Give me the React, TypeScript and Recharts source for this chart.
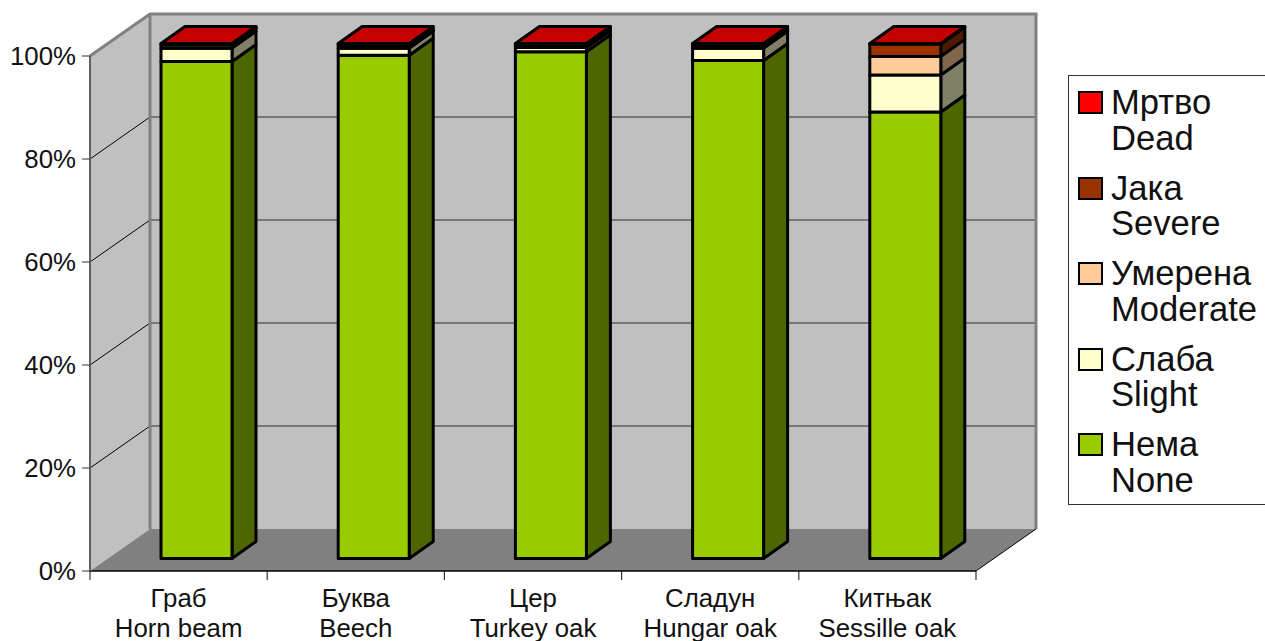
import { Bar, BarChart, Legend, ReferenceArea, XAxis, YAxis } from 'recharts'

const speciesSr = ['Граб', 'Буква', 'Цер', 'Сладун', 'Китњак']
const speciesEn = ['Horn beam', 'Beech', 'Turkey oak', 'Hungar oak', 'Sessille oak']

// Share of trees per damage class, percent
const none = [96.5, 97.7, 98.4, 96.7, 86.7]
const slight = [2.6, 1.4, 0.8, 2.4, 7.2]
const moderate = [0.6, 0, 0, 0, 3.6]
const severe = [0, 0.45, 0.4, 0.55, 2.4]
const dead = [0.3, 0.45, 0.4, 0.35, 0.1]

const classNames = {
  none: 'Нема\nNone',
  slight: 'Слаба\nSlight',
  moderate: 'Умерена\nModerate',
  severe: 'Јака\nSevere',
  dead: 'Мртво\nDead',
}

const yTicks = [0, 20, 40, 60, 80, 100]

const FONT = '"Liberation Sans", Arial, sans-serif'

const WALL_DX = 60
const WALL_DY = 42
const BAR_SHIFT_X = 18
const BAR_SHIFT_Y = 12.5
const BAR_DX = 24
const BAR_DY = 17

const rows = speciesSr.map((name, i) => ({
  name,
  none: none[i],
  slight: slight[i],
  moderate: moderate[i],
  severe: severe[i],
  dead: dead[i],
}))

const pts = (list: number[][]) => list.map((p) => p.join(',')).join(' ')

// Floor, side wall and back wall of the 3D box, with their gridlines
function Backdrop({ x, y, width, height }: any) {
  const bottom = y + height
  const right = x + width
  const backLeft = x + WALL_DX
  const backRight = right + WALL_DX
  const backTop = y - WALL_DY
  const backBottom = bottom - WALL_DY
  return (
    <g>
      <rect x={backLeft} y={backTop} width={width} height={height} fill="#c0c0c0" />
      <polygon
        points={pts([[x, y], [backLeft, backTop], [backLeft, backBottom], [x, bottom]])}
        fill="#c0c0c0"
      />
      <polygon
        points={pts([[x, bottom], [right, bottom], [backRight, backBottom], [backLeft, backBottom]])}
        fill="#808080"
      />
      {yTicks.filter((t) => t > 0 && t < 100).map((t) => {
        const gy = bottom - (height * t) / 100
        return (
          <g key={t}>
            <line x1={x} y1={gy} x2={backLeft} y2={gy - WALL_DY} stroke="#000" strokeWidth={1} />
            <line x1={backLeft} y1={gy - WALL_DY} x2={backRight} y2={gy - WALL_DY} stroke="#606060" strokeWidth={1.5} />
          </g>
        )
      })}
      <polyline
        points={pts([[x, y], [backLeft, backTop], [backRight, backTop], [backRight, backBottom]])}
        fill="none"
        stroke="#808080"
        strokeWidth={3}
      />
      <line x1={backLeft} y1={backTop} x2={backLeft} y2={backBottom} stroke="#808080" strokeWidth={3} />
      <line x1={right} y1={bottom} x2={backRight} y2={backBottom} stroke="#000" strokeWidth={1} />
      {speciesSr.map((_, i) => i).concat(speciesSr.length).map((i) => {
        const tx = x + (width * i) / speciesSr.length
        return <line key={i} x1={tx} y1={bottom} x2={tx} y2={bottom + 9} stroke="#333" strokeWidth={1.2} />
      })}
    </g>
  )
}

// One stack segment as a box: front face, shaded side and optionally the lid
function Segment({ x, y, width, height, fill, side, lid }: any) {
  const fx = x + BAR_SHIFT_X
  const fy = y - BAR_SHIFT_Y
  const fr = fx + width
  const fb = fy + height
  return (
    <g stroke="#000" strokeWidth={3} strokeLinejoin="round">
      <polygon
        points={pts([[fr, fy], [fr + BAR_DX, fy - BAR_DY], [fr + BAR_DX, fb - BAR_DY], [fr, fb]])}
        fill={side}
      />
      <rect x={fx} y={fy} width={width} height={height} fill={fill} />
      {lid && (
        <polygon
          points={pts([[fx, fy], [fx + BAR_DX, fy - BAR_DY], [fr + BAR_DX, fy - BAR_DY], [fr, fy]])}
          fill={lid}
        />
      )}
    </g>
  )
}

function CategoryTick({ x, y, index }: any) {
  return (
    <text x={x} textAnchor="middle" fontFamily={FONT} fontSize={25.8} fill="#111">
      <tspan x={x} y={y + 28}>{speciesSr[index]}</tspan>
      <tspan x={x} y={y + 58}>{speciesEn[index]}</tspan>
    </text>
  )
}

function LegendBox({ payload }: any) {
  const items = [...(payload ?? [])].reverse()
  return (
    <div
      style={{
        marginLeft: 92,
        height: 430,
        boxSizing: 'border-box',
        border: '1.5px solid #333',
        borderRight: 'none',
        paddingTop: 9,
        fontFamily: FONT,
        fontSize: 34.6,
        lineHeight: '35.5px',
        color: '#111',
      }}
    >
      {items.map((item: any) => (
        <div key={item.value} style={{ display: 'flex', height: 85.5 }}>
          <span
            style={{
              width: 25,
              height: 23,
              margin: '6px 8px 0 9px',
              boxSizing: 'border-box',
              border: '2.5px solid #000',
              background: item.color,
              flex: 'none',
            }}
          />
          <span style={{ whiteSpace: 'pre-line' }}>{item.value}</span>
        </div>
      ))}
    </div>
  )
}

export default function App() {
  return (
    <div style={{ position: 'absolute', left: 0, top: 0, width: 1265, height: 641, overflow: 'hidden', background: '#fff' }}>
      <BarChart
        width={1265}
        height={641}
        data={rows}
        stackOffset="none"
        barSize={71}
        margin={{ top: 56, right: 0, bottom: 0, left: 4 }}
      >
        <ReferenceArea y1={0} y2={100} ifOverflow="visible" shape={Backdrop} />
        <XAxis
          dataKey="name"
          interval={0}
          height={70}
          tickLine={false}
          tick={CategoryTick}
          axisLine={{ stroke: '#000', strokeWidth: 1.5 }}
        />
        <YAxis
          width={86}
          domain={[0, 100]}
          ticks={yTicks}
          tickSize={8}
          tickMargin={6}
          tickFormatter={(v: number) => `${v}%`}
          tick={{ fontFamily: FONT, fontSize: 25.8, fill: '#111' }}
          tickLine={{ stroke: '#333' }}
          axisLine={{ stroke: '#606060', strokeWidth: 2 }}
        />
        <Legend
          layout="vertical"
          align="right"
          verticalAlign="top"
          width={289}
          itemSorter={null}
          wrapperStyle={{ top: 75, right: 0 }}
          content={LegendBox}
        />
        <Bar dataKey="none" name={classNames.none} stackId="a" fill="#99cc00" isAnimationActive={false}
          shape={(p: any) => <Segment {...p} side="#4d6600" />} />
        <Bar dataKey="slight" name={classNames.slight} stackId="a" fill="#ffffcc" isAnimationActive={false}
          shape={(p: any) => <Segment {...p} side="#808066" />} />
        <Bar dataKey="moderate" name={classNames.moderate} stackId="a" fill="#ffcc99" isAnimationActive={false}
          shape={(p: any) => <Segment {...p} side="#80664d" />} />
        <Bar dataKey="severe" name={classNames.severe} stackId="a" fill="#993300" isAnimationActive={false}
          shape={(p: any) => <Segment {...p} side="#4d1a00" />} />
        <Bar dataKey="dead" name={classNames.dead} stackId="a" fill="#ff0000" isAnimationActive={false}
          shape={(p: any) => <Segment {...p} side="#800000" lid="#c40000" />} />
      </BarChart>
    </div>
  )
}
